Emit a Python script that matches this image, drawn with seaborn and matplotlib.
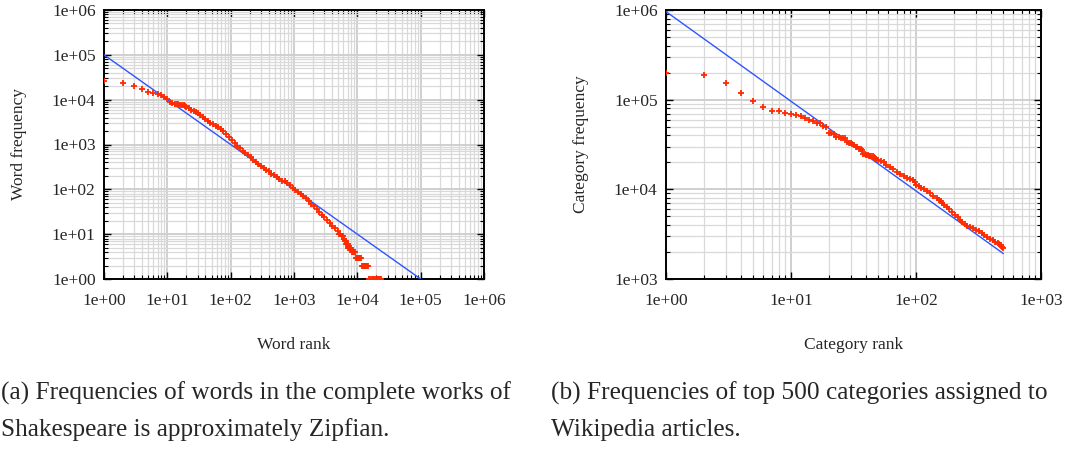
import numpy as np
import matplotlib
matplotlib.use("Agg")
import matplotlib.pyplot as plt
import seaborn as sns
from matplotlib.ticker import LogLocator, FuncFormatter, NullFormatter

# ---------------- data ----------------
word_rank = [1, 2, 3, 4, 5, 6, 7, 8, 9, 10,
             11, 12, 13, 14, 15, 16, 17, 18, 19, 20, 22, 24, 26, 28, 30, 33, 36, 40, 44, 48,
             53, 58, 64, 70, 77, 85, 94, 104, 115, 127, 140, 155, 170, 188, 207, 228, 250, 275,
             300, 330, 365, 400, 440, 485, 530, 585, 645, 710, 780, 860, 950, 1050, 1150, 1270,
             1400, 1540, 1700, 1870, 2060, 2270, 2500, 2750, 3030, 3340, 3680, 4050, 4460, 4900,
             5200, 5400, 5650, 5850, 6050, 6250, 6400, 6550,
             6700, 6850, 7000,
             7200, 7450, 7700, 7950,
             8200, 8500, 8800, 9100,
             9400, 9800, 10200, 10600, 11000, 11400,
             11800, 12300, 12800, 13300, 13800, 14300, 14800,
             15200, 16000, 16800, 17600, 18400, 19300, 20200, 21100, 22100, 23100, 24000]
word_freq = [26000, 23000, 20000, 17000, 14500, 14000, 13200, 12500, 11500, 10500,
             9000, 8500, 8200, 8000, 7900, 7800, 7700, 7500, 7300, 7000, 6500, 6000, 5600, 5300,
             5000, 4600, 4200, 3700, 3300, 3000,
             2800, 2600, 2400, 2200, 1950, 1700, 1450, 1250, 1080, 940, 820, 720, 640, 570, 515,
             460, 410, 370,
             335, 300, 275, 250, 225, 205, 187, 170, 155, 150, 138, 122, 108, 97, 87, 78,
             70, 64, 55, 48, 42, 37, 31, 27, 24, 21, 18, 15.5, 13.5, 11.8,
             10, 10, 9, 9, 8, 8, 7, 7,
             6, 6, 6,
             5, 5, 5, 5,
             4, 4, 4, 4,
             3, 3, 3, 3, 3, 3,
             2, 2, 2, 2, 2, 2, 2,
             1, 1, 1, 1, 1, 1, 1, 1, 1, 1, 1]
word_fit_rank = [1, 1e5]
word_fit_freq = [1e5, 1]

cat_rank = [1, 2, 3, 4, 5, 6, 7, 8, 9, 10, 11, 12, 13, 14, 15, 16, 17, 18, 19, 20,
            21, 22, 23, 24, 25, 26, 27, 28, 29, 30, 31, 32, 33, 34, 35, 36, 37, 38, 39, 40,
            41, 42, 43, 44, 45, 46, 47, 48, 50, 52, 55, 58, 62, 66, 70, 75, 80, 85, 90, 95,
            98, 100, 105, 110, 115, 122, 130, 138, 146, 153, 158, 160, 168, 176, 185, 195,
            205, 215, 225, 235, 245, 258, 272, 287, 302, 318, 335, 352, 370, 390, 410, 430,
            450, 465, 480, 490, 500]
cat_freq = [200000, 188000, 153000, 118000, 96000, 82000, 75000, 74500, 71000, 69000,
            67000, 65000, 62000, 59000, 58500, 55000, 55000, 51000, 49000, 43000,
            42000, 41000, 38500, 38000, 37500, 37500, 37000, 33500, 33000, 33000,
            32000, 31000, 30000, 29500, 28500, 28000, 27500, 24500, 24500, 24200,
            24000, 23800, 23500, 23500, 23300, 23000, 22200, 21800, 21200, 20800, 20000,
            18800, 17800, 17000, 15800, 14900, 14000, 13400, 13000, 12600,
            12200, 11200, 10800, 10400, 10000, 9500, 9000, 8500, 8000, 7700, 7500, 7000,
            6700, 6400, 6000, 5600, 5200, 4900, 4600, 4350, 4150, 3950, 3800, 3700, 3550,
            3400, 3250, 3100, 2950, 2800, 2700, 2600, 2500, 2450, 2400, 2300, 2200]
cat_fit_rank = [1, 500]
cat_fit_freq = [9.6e5, 1.92e3]

x_ticks_a = [1e0, 1e1, 1e2, 1e3, 1e4, 1e5, 1e6]
y_ticks_a = [1e0, 1e1, 1e2, 1e3, 1e4, 1e5, 1e6]
x_ticks_b = [1e0, 1e1, 1e2, 1e3]
y_ticks_b = [1e3, 1e4, 1e5, 1e6]

caption_a = ["(a) Frequencies of words in the complete works of",
             "Shakespeare is approximately Zipfian."]
caption_b = ["(b) Frequencies of top 500 categories assigned to",
             "Wikipedia articles."]

# ---------------- style ----------------
sns.set_theme(style="white")
plt.rcParams['font.family'] = ['Liberation Serif', 'DejaVu Serif']

RED = '#ff2a00'
BLUE = '#2f55ff'
W, H = 1089, 450

fig = plt.figure(figsize=(W / 100, H / 100), dpi=100)
ax1 = fig.add_axes([104 / W, 1 - 279 / H, 380 / W, 269 / H])
ax2 = fig.add_axes([666 / W, 1 - 279 / H, 375 / W, 269 / H])

fmt = FuncFormatter(lambda v, p: f"{v:.0e}")


def style(ax, xt, yt, xlabel, ylabel):
    ax.set_xscale('log')
    ax.set_yscale('log')
    ax.set_xticks(xt)
    ax.set_yticks(yt)
    for axis in (ax.xaxis, ax.yaxis):
        axis.set_minor_locator(LogLocator(base=10, subs=np.arange(2, 10), numticks=100))
        axis.set_major_formatter(fmt)
        axis.set_minor_formatter(NullFormatter())
    ax.grid(True, which='major', color='#cfcfcf', lw=1.4)
    ax.grid(True, which='minor', color='#d9d9d9', lw=0.9)
    ax.set_axisbelow(True)
    ax.tick_params(which='both', direction='in', top=True, right=True,
                   bottom=True, left=True, color='black')
    ax.tick_params(which='major', length=5, width=1.0, labelsize=12.5)
    ax.tick_params(axis='x', which='major', pad=10)
    ax.tick_params(axis='y', which='major', pad=6)
    ax.tick_params(which='minor', length=3, width=0.8)
    for s in ax.spines.values():
        s.set_color('black')
        s.set_linewidth(1.4)
        s.set_visible(True)
    ax.set_xlabel(xlabel, fontsize=12.5, labelpad=20)
    ax.set_ylabel(ylabel, fontsize=12.5, labelpad=18)


style(ax1, x_ticks_a, y_ticks_a, 'Word rank', 'Word frequency')
style(ax2, x_ticks_b, y_ticks_b, 'Category rank', 'Category frequency')

for ax, fr, ff, r, f in ((ax1, word_fit_rank, word_fit_freq, word_rank, word_freq),
                         (ax2, cat_fit_rank, cat_fit_freq, cat_rank, cat_freq)):
    sns.lineplot(x=fr, y=ff, color=BLUE, lw=1.0, ax=ax, zorder=3)
    sns.scatterplot(x=r, y=f, marker='+', s=18, color=RED, linewidth=1.3, ax=ax, zorder=4)

ax1.set_xlim(x_ticks_a[0], x_ticks_a[-1])
ax1.set_ylim(y_ticks_a[0], y_ticks_a[-1])
ax2.set_xlim(x_ticks_b[0], x_ticks_b[-1])
ax2.set_ylim(y_ticks_b[0], y_ticks_b[-1])

cap_size = 18.2
fig.text(1 / W, 1 - 393 / H, caption_a[0], fontsize=cap_size, ha='left', va='center')
fig.text(1 / W, 1 - 430 / H, caption_a[1], fontsize=cap_size, ha='left', va='center')
fig.text(551 / W, 1 - 393 / H, caption_b[0], fontsize=cap_size, ha='left', va='center')
fig.text(551 / W, 1 - 430 / H, caption_b[1], fontsize=cap_size, ha='left', va='center')

fig.savefig('out.png', dpi=100)
